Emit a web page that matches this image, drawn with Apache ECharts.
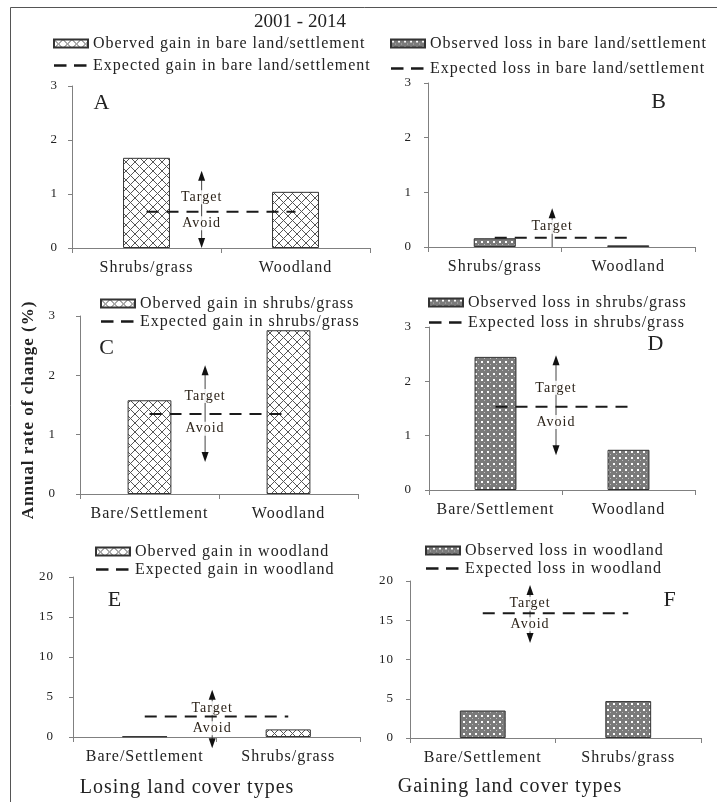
<!DOCTYPE html>
<html>
<head>
<meta charset="UTF-8">
<style>
  html, body { margin: 0; padding: 0; background: #fff; }
  #chart { width: 717px; height: 802px; }
</style>
<script src="https://cdn.jsdelivr.net/npm/echarts@6/dist/echarts.min.js"></script>
</head>
<body>
<div id="chart"></div>
<script>
// categories (losing / gaining land cover types)
var catBare = ['Shrubs/grass', 'Woodland'];
var catShrubs = ['Bare/Settlement', 'Woodland'];
var catWood = ['Bare/Settlement', 'Shrubs/grass'];

// observed annual rate of change (%)
var obsA = [1.67, 1.04];
var obsB = [0.16, 0.03];
var obsC = [1.58, 2.76];
var obsD = [2.45, 0.74];
var obsE = [0.08, 0.95];
var obsF = [3.5, 4.7];

// expected rate (dashed line), one per panel A..F
var expected = [0.67, 0.17, 1.35, 1.53, 2.55, 15.9];

// y axis range per panel
var yMax = [3, 3, 3, 3, 20, 20];
var yStep = [1, 1, 1, 1, 5, 5];

var legendObs = [
  'Oberved gain in bare land/settlement',
  'Observed loss in bare land/settlement',
  'Oberved gain in shrubs/grass',
  'Observed loss in shrubs/grass',
  'Oberved gain in woodland',
  'Observed loss in woodland'
];
var legendExp = [
  'Expected gain in bare land/settlement',
  'Expected loss in bare land/settlement',
  'Expected gain in shrubs/grass',
  'Expected loss in shrubs/grass',
  'Expected gain in woodland',
  'Expected loss in woodland'
];
var panelLetters = ['A', 'B', 'C', 'D', 'E', 'F'];

// Target / Avoid arrows (x on a 0..2 scale across the axis, y in data units)
var arrowX = [0.87, 0.93, 0.90, 0.955, 0.97, 0.825];
var arrowTop = [1.43, 0.71, 2.17, 2.48, 5.9, 19.5];
var arrowBottom = [0, 0, 0.54, 0.64, -1.4, 12.1];
var targetY = [0.94, 0.37, 1.65, 1.88, 3.6, 17.1];
var avoidY = [0.46, null, 1.10, 1.25, 1.1, 14.5];

var obsAll = [obsA, obsB, obsC, obsD, obsE, obsF];
var catAll = [catBare, catBare, catShrubs, catShrubs, catWood, catWood];

// layout of each panel
var panels = [
  { left: 72, top: 86, width: 298, height: 162, lg: [53, 35.5, 6], letter: [102, 103], ym: 14 },
  { left: 428, top: 83, width: 267, height: 164, lg: [390, 35.5, 9], letter: [659, 102], ym: 16 },
  { left: 80, top: 316, width: 278, height: 178, lg: [100, 295.5, 2], letter: [107, 348], ym: 24 },
  { left: 429, top: 327, width: 266, height: 163, lg: [428, 294.5, 4], letter: [656, 344], ym: 17 },
  { left: 73, top: 577, width: 287, height: 160, lg: [95, 543.5, 2], letter: [115, 600], ym: 19 },
  { left: 410, top: 581, width: 291, height: 157, lg: [425, 542.5, 2], letter: [670, 600], ym: 16 }
];

var FONT = 'Liberation Serif';
var INK = '#222';

// the original figure is typeset with loose letter spacing (all but the 19px title)
var baseFillText = CanvasRenderingContext2D.prototype.fillText;
CanvasRenderingContext2D.prototype.fillText = function (t, x, y, w) {
  this.letterSpacing = this.font.indexOf('19px') >= 0 ? '0px' : '1px';
  return w === undefined ? baseFillText.call(this, t, x, y) : baseFillText.call(this, t, x, y, w);
};

function hatchPattern() {
  var c = document.createElement('canvas');
  c.width = 9; c.height = 9;
  var g = c.getContext('2d');
  g.fillStyle = '#fff';
  g.fillRect(0, 0, 9, 9);
  g.strokeStyle = '#555';
  g.lineWidth = 1;
  g.beginPath();
  g.moveTo(0, 0); g.lineTo(9, 9);
  g.moveTo(9, 0); g.lineTo(0, 9);
  g.stroke();
  return c;
}

function dotPattern() {
  var c = document.createElement('canvas');
  c.width = 6; c.height = 6;
  var g = c.getContext('2d');
  g.fillStyle = '#7a7a7a';
  g.fillRect(0, 0, 6, 6);
  g.fillStyle = '#fff';
  g.fillRect(1, 1, 2, 2);
  g.fillStyle = '#bdbdbd';
  g.fillRect(4, 4, 1, 1);
  return c;
}

var gainFill = { image: hatchPattern(), repeat: 'repeat' };
var lossFill = { image: dotPattern(), repeat: 'repeat' };
var dashIcon = 'path://M0,0M34,8M0,2.7h12.5v2.6h-12.5zM20,2.7h12.5v2.6h-12.5z';

function renderArrow(params, api) {
  var x = api.value(0);
  var top = api.coord([x, api.value(1)]);
  var bot = api.coord([x, api.value(2)]);
  var tY = api.value(3);
  var aY = api.value(4);
  var hasDown = !isNaN(aY);
  var kids = [
    { type: 'line', shape: { x1: top[0], y1: top[1] + 6, x2: bot[0], y2: hasDown ? bot[1] - 6 : bot[1] },
      style: { stroke: '#444', lineWidth: 1 } },
    { type: 'polygon', shape: { points: [[top[0], top[1]], [top[0] - 3.5, top[1] + 10], [top[0] + 3.5, top[1] + 10]] },
      style: { fill: '#111' } }
  ];
  if (hasDown) {
    kids.push({ type: 'polygon', shape: { points: [[bot[0], bot[1]], [bot[0] - 3.5, bot[1] - 10], [bot[0] + 3.5, bot[1] - 10]] },
      style: { fill: '#111' } });
  }
  var tp = api.coord([x, tY]);
  kids.push({ type: 'text', x: tp[0], y: tp[1],
    style: { text: 'Target', font: '14px "' + FONT + '"', fill: '#2b2218', align: 'center', verticalAlign: 'middle',
      backgroundColor: 'rgba(255,255,255,0.85)' } });
  if (hasDown) {
    var ap = api.coord([x, aY]);
    kids.push({ type: 'text', x: ap[0], y: ap[1],
      style: { text: 'Avoid', font: '14px "' + FONT + '"', fill: '#2b2218', align: 'center', verticalAlign: 'middle',
        backgroundColor: 'rgba(255,255,255,0.85)' } });
  }
  return { type: 'group', children: kids };
}

var grids = [], xAxes = [], yAxes = [], series = [], legends = [];

panels.forEach(function (p, i) {
  grids.push({ left: p.left, top: p.top, width: p.width, height: p.height });
  xAxes.push({
    type: 'category', gridIndex: i, data: catAll[i],
    axisLine: { lineStyle: { color: '#808080', width: 1 } },
    axisTick: { show: true, length: 5, lineStyle: { color: '#808080' } },
    axisLabel: { color: INK, fontFamily: FONT, fontSize: 16, margin: 12, interval: 0, hideOverlap: false }
  });
  xAxes.push({ type: 'value', gridIndex: i, min: 0, max: 2, show: false });
  yAxes.push({
    type: 'value', gridIndex: i, min: 0, max: yMax[i], interval: yStep[i],
    splitLine: { show: false },
    axisLine: { show: true, lineStyle: { color: '#808080', width: 1 } },
    axisTick: { show: true, length: 4, lineStyle: { color: '#808080' } },
    axisLabel: { color: INK, fontFamily: FONT, fontSize: 13, margin: p.ym }
  });
  var isGain = i % 2 === 0;
  series.push({
    name: legendObs[i], type: 'bar', xAxisIndex: 2 * i, yAxisIndex: i,
    data: obsAll[i], barWidth: '31.5%',
    itemStyle: { color: isGain ? gainFill : lossFill, borderColor: '#333', borderWidth: 1 },
    z: 2
  });
  series.push({
    name: legendExp[i], type: 'line', xAxisIndex: 2 * i, yAxisIndex: i,
    data: [expected[i], expected[i]], symbol: 'none',
    lineStyle: { color: '#1a1a1a', width: 2, type: [12, 8] },
    itemStyle: { color: '#1a1a1a' },
    z: 4
  });
  series.push({
    type: 'custom', xAxisIndex: 2 * i + 1, yAxisIndex: i, silent: true, clip: false,
    data: [[arrowX[i], arrowTop[i], arrowBottom[i], targetY[i], avoidY[i] === null ? NaN : avoidY[i]]],
    renderItem: renderArrow,
    z: 3
  });
  legends.push({
    data: [
      { name: legendObs[i], icon: 'rect' },
      { name: legendExp[i], icon: dashIcon }
    ],
    orient: 'vertical',
    left: p.lg[0], top: p.lg[1], itemGap: p.lg[2],
    itemWidth: 34, itemHeight: 8, padding: 0, selectedMode: false,
    textStyle: { color: INK, fontFamily: FONT, fontSize: 16 }
  });
});

var graphics = [
  { type: 'rect', shape: { x: 10.5, y: 7.5, width: 730, height: 820 }, style: { fill: 'none', stroke: '#555', lineWidth: 1 }, silent: true },
  { type: 'text', x: 300, y: 22, style: { text: '2001 - 2014', font: '19px "' + FONT + '"', fill: INK, align: 'center', verticalAlign: 'middle' } },
  { type: 'text', x: 29, y: 410, rotation: Math.PI / 2,
    style: { text: 'Annual rate of change (%)', font: 'bold 17px "' + FONT + '"', fill: INK, align: 'center', verticalAlign: 'middle' } },
  { type: 'text', x: 187, y: 788, style: { text: 'Losing land cover types', font: '20px "' + FONT + '"', fill: INK, align: 'center', verticalAlign: 'middle' } },
  { type: 'text', x: 510, y: 787, style: { text: 'Gaining land cover types', font: '20px "' + FONT + '"', fill: INK, align: 'center', verticalAlign: 'middle' } }
];
panels.forEach(function (p, i) {
  graphics.push({ type: 'text', x: p.letter[0], y: p.letter[1],
    style: { text: panelLetters[i], font: '22px "' + FONT + '"', fill: INK, align: 'center', verticalAlign: 'middle' } });
});

var chart = echarts.init(document.getElementById('chart'));
chart.setOption({
  animation: false,
  backgroundColor: '#fff',
  grid: grids,
  xAxis: xAxes,
  yAxis: yAxes,
  legend: legends,
  series: series,
  graphic: graphics
});
</script>
</body>
</html>
